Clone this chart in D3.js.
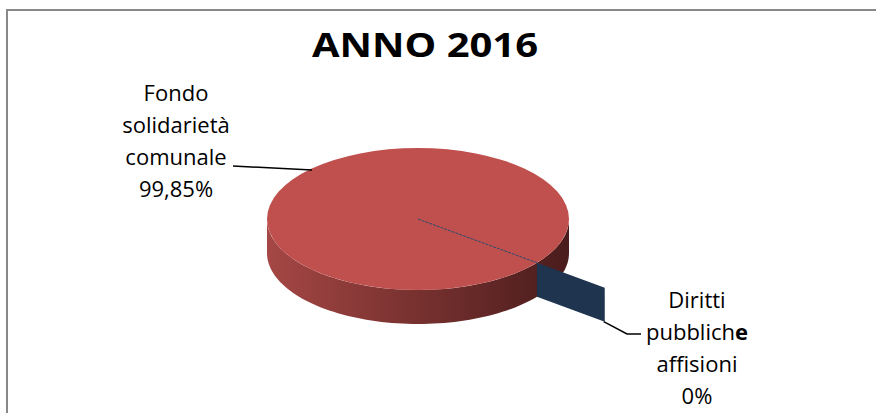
<!DOCTYPE html>
<html lang="it">
    <head>
        <meta charset="UTF-8">
        <title>ANNO 2016</title>
        <script type="text/javascript" src="https://d3js.org/d3.v7.min.js"></script>
        <style>
         body { margin: 0; background: #fff; font-family: "Open Sans", Arial; }
         svg { display: block; }
        </style>
    </head>
    <body>
      <div id="svgcontainer"></div>
        <script>
            const width = 876;
            const height = 413;

            // data
            const categories = ["Fondo solidarietà comunale", "Diritti pubbliche affisioni"];
            const values = [99.85, 0.15];
            const percentLabels = ["99,85%", "0%"];

            const svg = d3.select("#svgcontainer")
                .append("svg")
                .attr("width", width)
                .attr("height", height);

            // chart frame
            svg.append("rect")
                .attr("x", 7).attr("y", 10)
                .attr("width", width + 20).attr("height", height + 20)
                .attr("fill", "#fff")
                .attr("stroke", "#898989")
                .attr("stroke-width", 2);

            // title
            svg.append("text")
                .attr("x", 425).attr("y", 57)
                .attr("text-anchor", "middle")
                .attr("font-size", 34)
                .attr("font-weight", "bold")
                .attr("textLength", 226)
                .attr("lengthAdjust", "spacingAndGlyphs")
                .text("ANNO 2016");

            // 3d pie geometry
            const cx = 418, cy = 219, rx = 151, ry = 71, depth = 34;
            const explode = 0.57;
            const rad = Math.PI / 180;

            const pie = d3.pie()
                .sort(null)
                .startAngle(128.3 * rad)
                .endAngle(128.3 * rad + 2 * Math.PI);
            const arcs = pie(values);

            // d3 angle (clockwise from 12 o'clock) -> point on squashed ellipse
            function pt(a, r, dz) {
                const t = a - Math.PI / 2;
                return [cx + r * rx * Math.cos(t), cy + r * ry * Math.sin(t) + (dz || 0)];
            }

            const defs = svg.append("defs");
            const grad = defs.append("linearGradient")
                .attr("id", "side")
                .attr("x1", 0).attr("x2", 1).attr("y1", 0).attr("y2", 0);
            grad.append("stop").attr("offset", 0).attr("stop-color", "#a54745");
            grad.append("stop").attr("offset", 0.45).attr("stop-color", "#7b3331");
            grad.append("stop").attr("offset", 1).attr("stop-color", "#4a1c1c");

            const line = d3.line();

            // red slice side (front half of the rim)
            const front = d3.range(90, 271, 2).map(d => d * rad);
            const sidePts = front.map(a => pt(a, 1))
                .concat(front.slice().reverse().map(a => pt(a, 1, depth)));
            svg.append("path")
                .attr("d", line(sidePts) + "Z")
                .attr("fill", "url(#side)");

            // red top
            svg.append("ellipse")
                .attr("cx", cx).attr("cy", cy)
                .attr("rx", rx).attr("ry", ry)
                .attr("fill", "#c0504d");

            // blue slice: gap line on top, exploded radial wall
            const blue = arcs[1];
            const mid = (blue.startAngle + blue.endAngle) / 2;
            const c0 = pt(mid, 0), r1 = pt(mid, 1);
            svg.append("path")
                .attr("d", line([c0, r1]))
                .attr("stroke", "#2c4a70")
                .attr("stroke-width", 1)
                .attr("stroke-dasharray", "3,1")
                .attr("fill", "none");

            const outer = pt(mid, 1 + explode);
            const wall = [r1, outer, [outer[0], outer[1] + depth], [r1[0], r1[1] + depth]];
            svg.append("path")
                .attr("d", line(wall) + "Z")
                .attr("fill", "#1f344e");

            // labels with leader lines
            function label(lines, x, y0, boldLast) {
                const t = svg.append("text")
                    .attr("text-anchor", "middle")
                    .attr("font-size", 22)
                    .attr("fill", "#000");
                lines.forEach((s, i) => {
                    const ts = t.append("tspan").attr("x", x).attr("y", y0 + i * 32);
                    if (boldLast && i === 1) {
                        ts.append("tspan").text(s.slice(0, -1));
                        ts.append("tspan").attr("font-weight", "bold").text(s.slice(-1));
                    } else {
                        ts.text(s);
                    }
                });
            }

            label(["Fondo", "solidarietà", "comunale", percentLabels[0]], 176, 101, false);
            label(["Diritti", "pubbliche", "affisioni", percentLabels[1]], 697, 308, true);

            svg.append("path")
                .attr("d", line([[233, 166], [312, 170]]))
                .attr("stroke", "#000").attr("stroke-width", 1.5).attr("fill", "none");
            svg.append("path")
                .attr("d", line([[outer[0] - 1, outer[1] + depth], [627, 334], [641, 334]]))
                .attr("stroke", "#000").attr("stroke-width", 1.5).attr("fill", "none");
        </script>
    </body>
</html>
